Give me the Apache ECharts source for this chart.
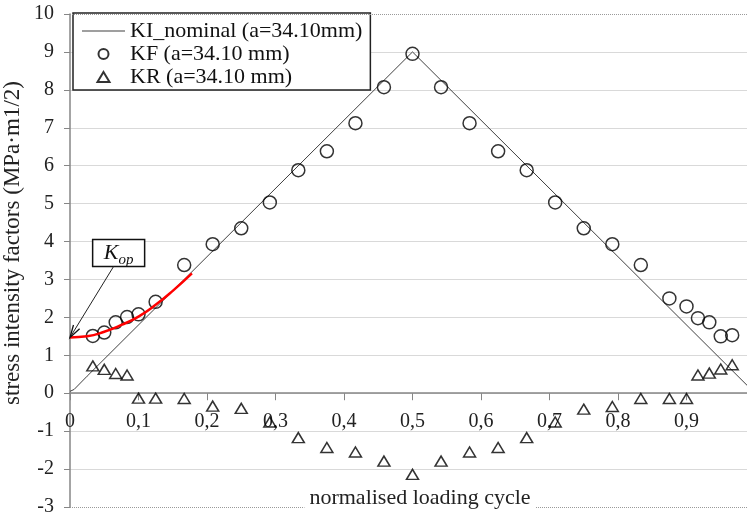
<!DOCTYPE html>
<html>
<head>
<meta charset="utf-8">
<script src="https://cdn.jsdelivr.net/npm/echarts@6/dist/echarts.min.js"></script>
<style>
  html, body { margin: 0; padding: 0; background: #fff; }
  #main { width: 747px; height: 517px; }
</style>
</head>
<body>
<div id="main"></div>
<script>
// normalised loading cycle positions of the measured points
var cycleX = [0.0333, 0.05, 0.0667, 0.0833, 0.1, 0.125, 0.1667, 0.2083, 0.25, 0.2917,
  0.3333, 0.375, 0.4167, 0.4583, 0.5, 0.5417, 0.5833, 0.625, 0.6667, 0.7083,
  0.75, 0.7917, 0.8333, 0.875, 0.9, 0.9167, 0.9333, 0.95, 0.9667];
// KF (a=34.10 mm)
var kfValues = [1.51, 1.60, 1.87, 2.01, 2.08, 2.41, 3.38, 3.93, 4.35, 5.03,
  5.88, 6.38, 7.12, 8.07, 8.95, 8.07, 7.12, 6.38, 5.88, 5.03,
  4.35, 3.93, 3.38, 2.50, 2.29, 1.98, 1.87, 1.50, 1.53];
// KR (a=34.10 mm)
var krValues = [0.72, 0.63, 0.52, 0.48, -0.13, -0.13, -0.14, -0.34, -0.40, -0.76,
  -1.17, -1.43, -1.55, -1.79, -2.14, -1.79, -1.55, -1.43, -1.17, -0.76,
  -0.42, -0.35, -0.14, -0.14, -0.14, 0.48, 0.53, 0.64, 0.75];
// KI_nominal
var nominalX = [0, 0.006, 0.025, 0.5, 1];
var nominalValues = [0.05, 0.1, 0.45, 9.0, 0];
// red Kop curve
var kopX = [0, 0.025, 0.05, 0.075, 0.1, 0.125, 0.15, 0.178];
var kopValues = [1.47, 1.5, 1.62, 1.8, 2.02, 2.33, 2.7, 3.16];

var yTicks = { min: -3, max: 10, step: 1 };
var xTicks = { min: 0, max: 1, step: 0.1 };

function pairs(xs, ys) {
  return xs.map(function (x, i) { return [x, ys[i]]; });
}

var font = 'Liberation Serif';
var W = 747, H = 517;
var gridBox = { left: 70, right: -8, top: 14, bottom: 10 };
// x axis sits on y = 0: shift it up from the grid bottom
var zeroOffset = -(0 - yTicks.min) / (yTicks.max - yTicks.min) * (H - gridBox.top - gridBox.bottom);

var myChart = echarts.init(document.getElementById('main'));

var option = {
  backgroundColor: '#fff',
  animation: false,
  grid: { left: gridBox.left, right: gridBox.right, top: gridBox.top, bottom: gridBox.bottom, outerBoundsMode: 'none', containLabel: false },
  legend: {
    orient: 'vertical',
    left: 73,
    top: 13,
    padding: [7, 8, 2, 9],
    itemGap: 1,
    itemWidth: 43,
    itemHeight: 10,
    backgroundColor: '#fff',
    borderColor: '#222',
    borderWidth: 1.5,
    borderRadius: 0,
    textStyle: { fontFamily: font, fontSize: 22, color: '#111', lineHeight: 22 },
    data: [
      { name: 'KI_nominal (a=34.10mm)', icon: 'path://M0 0H43V1H0Z' },
      { name: 'KF (a=34.10 mm)', icon: 'circle' },
      { name: 'KR (a=34.10 mm)', icon: 'path://M6 0L12 10L0 10Z' }
    ]
  },
  xAxis: {
    type: 'value',
    min: xTicks.min,
    max: xTicks.max,
    interval: xTicks.step,
    position: 'bottom',
    offset: zeroOffset,
    axisLine: { onZero: false, lineStyle: { color: '#868686', width: 1.5 } },
    axisTick: { show: true, length: 7, lineStyle: { color: '#868686' } },
    splitLine: { show: false },
    axisLabel: {
      show: true,
      margin: 19,
      hideOverlap: false,
      fontFamily: font, fontSize: 20, color: '#222',
      formatter: function (v) { return v >= 1 ? '' : String(v).replace('.', ','); }
    }
  },
  yAxis: {
    type: 'value',
    min: yTicks.min,
    max: yTicks.max,
    interval: yTicks.step,
    axisLine: { show: true, onZero: false, lineStyle: { color: '#868686', width: 1.5 } },
    axisTick: { show: true, length: 6, lineStyle: { color: '#868686' } },
    splitLine: {
      lineStyle: {
        width: 1,
        color: ['rgba(0,0,0,0)', '#d9d9d9', '#d9d9d9', '#d9d9d9', '#d9d9d9', '#d9d9d9', '#d9d9d9',
          '#d9d9d9', '#d9d9d9', '#d9d9d9', '#d9d9d9', '#d9d9d9', '#d9d9d9', 'rgba(0,0,0,0)']
      }
    },
    axisLabel: { margin: 16, fontFamily: font, fontSize: 20, color: '#222' }
  },
  series: [
    {
      name: 'KI_nominal (a=34.10mm)',
      type: 'line',
      symbol: 'none',
      data: pairs(nominalX, nominalValues),
      lineStyle: { color: '#404040', width: 1 },
      itemStyle: { color: '#404040' },
      markLine: {
        silent: true,
        symbol: 'none',
        label: { show: false },
        lineStyle: { type: 'dotted', color: '#9a9a9a', width: 1 },
        data: [{ yAxis: yTicks.max }, { yAxis: yTicks.min }]
      },
      z: 2
    },
    {
      name: 'KF (a=34.10 mm)',
      type: 'scatter',
      symbol: 'circle',
      symbolSize: 13,
      data: pairs(cycleX, kfValues),
      itemStyle: { color: 'rgba(0,0,0,0)', borderColor: '#000', borderWidth: 1.5 },
      z: 3
    },
    {
      name: 'KR (a=34.10 mm)',
      type: 'scatter',
      symbol: 'triangle',
      symbolSize: [12, 10],
      data: pairs(cycleX, krValues),
      itemStyle: { color: 'rgba(0,0,0,0)', borderColor: '#000', borderWidth: 1.5 },
      z: 3
    },
    {
      name: 'Kop',
      type: 'line',
      symbol: 'none',
      smooth: true,
      data: pairs(kopX, kopValues),
      lineStyle: { color: '#ff0000', width: 2.5 },
      z: 4
    }
  ]
};

myChart.setOption(option);

// annotations placed from data coordinates
var tip = myChart.convertToPixel({ gridIndex: 0 }, [kopX[0], kopValues[0]]);
var boxC = myChart.convertToPixel({ gridIndex: 0 }, [0.071, 3.7]);
var boxW = 52, boxH = 27;
var start = [boxC[0] - 5, boxC[1] + boxH / 2];
var ang = Math.atan2(start[1] - tip[1], start[0] - tip[0]);
var headLen = 13, spread = 0.28;
var h1 = [tip[0] + headLen * Math.cos(ang - spread), tip[1] + headLen * Math.sin(ang - spread)];
var h2 = [tip[0] + headLen * Math.cos(ang + spread), tip[1] + headLen * Math.sin(ang + spread)];

myChart.setOption({
  graphic: [
    {
      type: 'text',
      x: 13, y: 243,
      rotation: Math.PI / 2,
      style: {
        text: 'stress intensity factors (MPa·m1/2)',
        font: '23px "Liberation Serif"',
        fill: '#222',
        textAlign: 'center',
        textVerticalAlign: 'middle'
      }
    },
    {
      type: 'text',
      x: 420, y: 498,
      z: 10,
      style: {
        text: 'normalised loading cycle',
        font: '22px "Liberation Serif"',
        fill: '#222',
        textAlign: 'center',
        textVerticalAlign: 'middle',
        backgroundColor: '#fff',
        padding: [0, 5]
      }
    },
    {
      type: 'rect',
      z: 10,
      shape: { x: boxC[0] - boxW / 2, y: boxC[1] - boxH / 2, width: boxW, height: boxH },
      style: { fill: '#fff', stroke: '#111', lineWidth: 1.5 }
    },
    {
      type: 'text',
      z: 11,
      x: boxC[0], y: boxC[1],
      style: {
        text: '{k|K}{s|op}',
        textAlign: 'center',
        textVerticalAlign: 'middle',
        rich: {
          k: { font: 'italic 22px "Liberation Serif"', fill: '#111', verticalAlign: 'bottom' },
          s: { font: 'italic 15px "Liberation Serif"', fill: '#111', verticalAlign: 'bottom', padding: [0, 0, -4, 0] }
        }
      }
    },
    {
      type: 'line',
      z: 10,
      shape: { x1: start[0], y1: start[1], x2: tip[0], y2: tip[1] },
      style: { stroke: '#222', lineWidth: 1 }
    },
    {
      type: 'polyline',
      z: 10,
      shape: { points: [h1, tip, h2] },
      style: { stroke: '#111', lineWidth: 1.3, fill: null }
    }
  ]
});
</script>
</body>
</html>
